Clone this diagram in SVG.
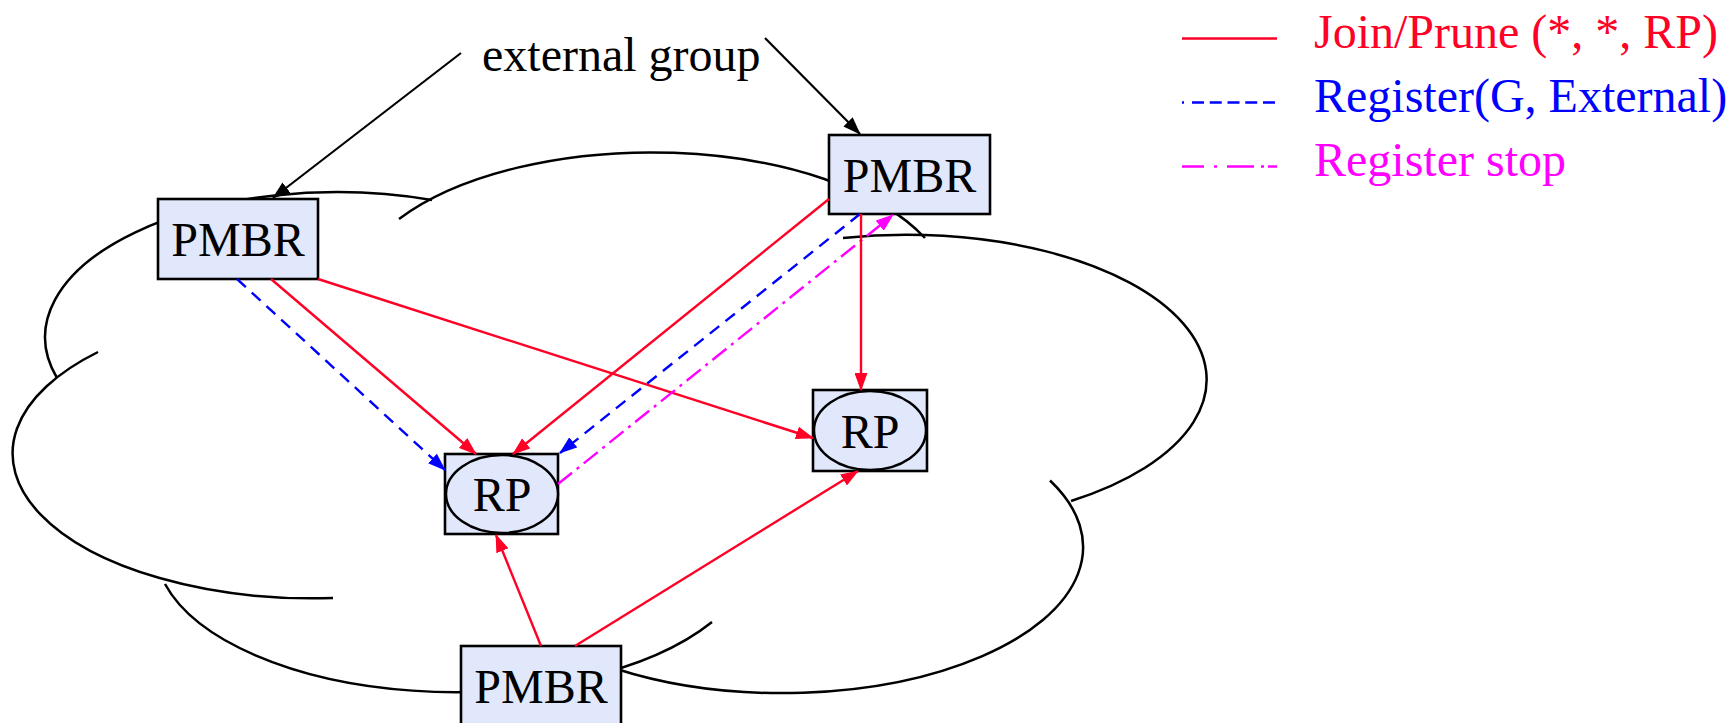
<svg xmlns="http://www.w3.org/2000/svg" width="1730" height="723" viewBox="0 0 1730 723">
<style>
.cloud{fill:none;stroke:#000;stroke-width:2.5}
.box{fill:#e2e8fb;stroke:#000;stroke-width:2.6}
.ell{fill:#e2e8fb;stroke:#000;stroke-width:2.5}
.lbl{font-family:"Liberation Serif","Times New Roman",serif;font-size:48px;fill:#000}
.red{fill:none;stroke:#ff0026;stroke-width:2.4}
.blue{fill:none;stroke:#0000ff;stroke-width:2.4;stroke-dasharray:12 8}
.mag{fill:none;stroke:#ff00ff;stroke-width:2.4;stroke-dasharray:18 6 3 6}
.blk{fill:none;stroke:#000;stroke-width:2.2}
</style>
<defs>
<marker id="aR" viewBox="0 0 18 13" markerWidth="18" markerHeight="13" refX="17" refY="6.5" orient="auto" markerUnits="userSpaceOnUse"><path d="M0,0 L18,6.5 L0,13 z" fill="#ff0026"/></marker>
<marker id="aB" viewBox="0 0 18 13" markerWidth="18" markerHeight="13" refX="17" refY="6.5" orient="auto" markerUnits="userSpaceOnUse"><path d="M0,0 L18,6.5 L0,13 z" fill="#0000ff"/></marker>
<marker id="aM" viewBox="0 0 18 13" markerWidth="18" markerHeight="13" refX="17" refY="6.5" orient="auto" markerUnits="userSpaceOnUse"><path d="M0,0 L18,6.5 L0,13 z" fill="#ff00ff"/></marker>
<marker id="aK" viewBox="0 0 18 13" markerWidth="18" markerHeight="13" refX="17" refY="6.5" orient="auto" markerUnits="userSpaceOnUse"><path d="M0,0 L18,6.5 L0,13 z" fill="#000"/></marker>
</defs>
<g id="cloud">
<path class="cloud" d="M432,200 A292,145 0 0 0 57,378"/>
<path class="cloud" d="M399,219 A300,145 0 0 1 925,238"/>
<path class="cloud" d="M843,238 A300,145 0 0 1 1071,501"/>
<path class="cloud" d="M1050,480.5 A301,146 0 0 1 615,668.5"/>
<path class="cloud" d="M165,584 A300,145 0 0 0 712,622"/>
<path class="cloud" d="M98,352 A300,145 0 0 0 333,598"/>
</g>
<g id="pmbr1"><rect class="box" x="158" y="199" width="160" height="80"/><text class="lbl" x="238" y="256" text-anchor="middle">PMBR</text></g>
<g id="pmbr2"><rect class="box" x="829" y="135" width="161" height="79"/><text class="lbl" x="909.5" y="192" text-anchor="middle">PMBR</text></g>
<g id="pmbr3"><rect class="box" x="461" y="646" width="160" height="80"/><text class="lbl" x="541" y="703" text-anchor="middle">PMBR</text></g>
<g id="rp1"><rect class="box" x="445" y="454" width="113" height="80"/><ellipse class="ell" cx="502" cy="494" rx="56" ry="39"/><text class="lbl" x="502" y="511" text-anchor="middle">RP</text></g>
<g id="rp2"><rect class="box" x="813" y="390" width="114" height="81"/><ellipse class="ell" cx="870" cy="430.5" rx="56" ry="39.5"/><text class="lbl" x="870" y="448" text-anchor="middle">RP</text></g>
<g id="extlabel"><text class="lbl" x="482" y="71">external group</text></g>
<g id="connectors">
<path class="blk" d="M461,53 L273,198" marker-end="url(#aK)"/>
<path class="blk" d="M765,38 L860,134" marker-end="url(#aK)"/>
<path class="red" d="M271,279 L476,454" marker-end="url(#aR)"/>
<path class="red" d="M318,279 L813,438" marker-end="url(#aR)"/>
<path class="blue" d="M237,279 L445,470" marker-end="url(#aB)"/>
<path class="red" d="M829,199 L513,454" marker-end="url(#aR)"/>
<path class="blue" d="M860,214 L560,453" marker-end="url(#aB)"/>
<path class="mag" d="M558,484 L893,215" marker-end="url(#aM)"/>
<path class="red" d="M861,214 L861,390" marker-end="url(#aR)"/>
<path class="red" d="M541,646 L496,535" marker-end="url(#aR)"/>
<path class="red" d="M575,646 L858,471" marker-end="url(#aR)"/>
</g>
<g id="legend">
<path d="M1182,38.5 H1277" stroke="#ff0026" stroke-width="2.4"/>
<path d="M1182,102.5 H1277" stroke="#0000ff" stroke-width="2.4" stroke-dasharray="2 8 12 5.75 12 5.75 12 5.75 12 5.75 12 100"/>
<path d="M1182,166.5 H1277" stroke="#ff00ff" stroke-width="2.4" stroke-dasharray="22 10 3 10 27 7 3 4 9 100"/>
<text class="lbl" x="1314" y="48" style="fill:#ff0026">Join/Prune (*, *, RP)</text>
<text class="lbl" x="1314" y="112" style="fill:#0000ff">Register(G, External)</text>
<text class="lbl" x="1314" y="176" style="fill:#ff00ff">Register stop</text>
</g>
</svg>
